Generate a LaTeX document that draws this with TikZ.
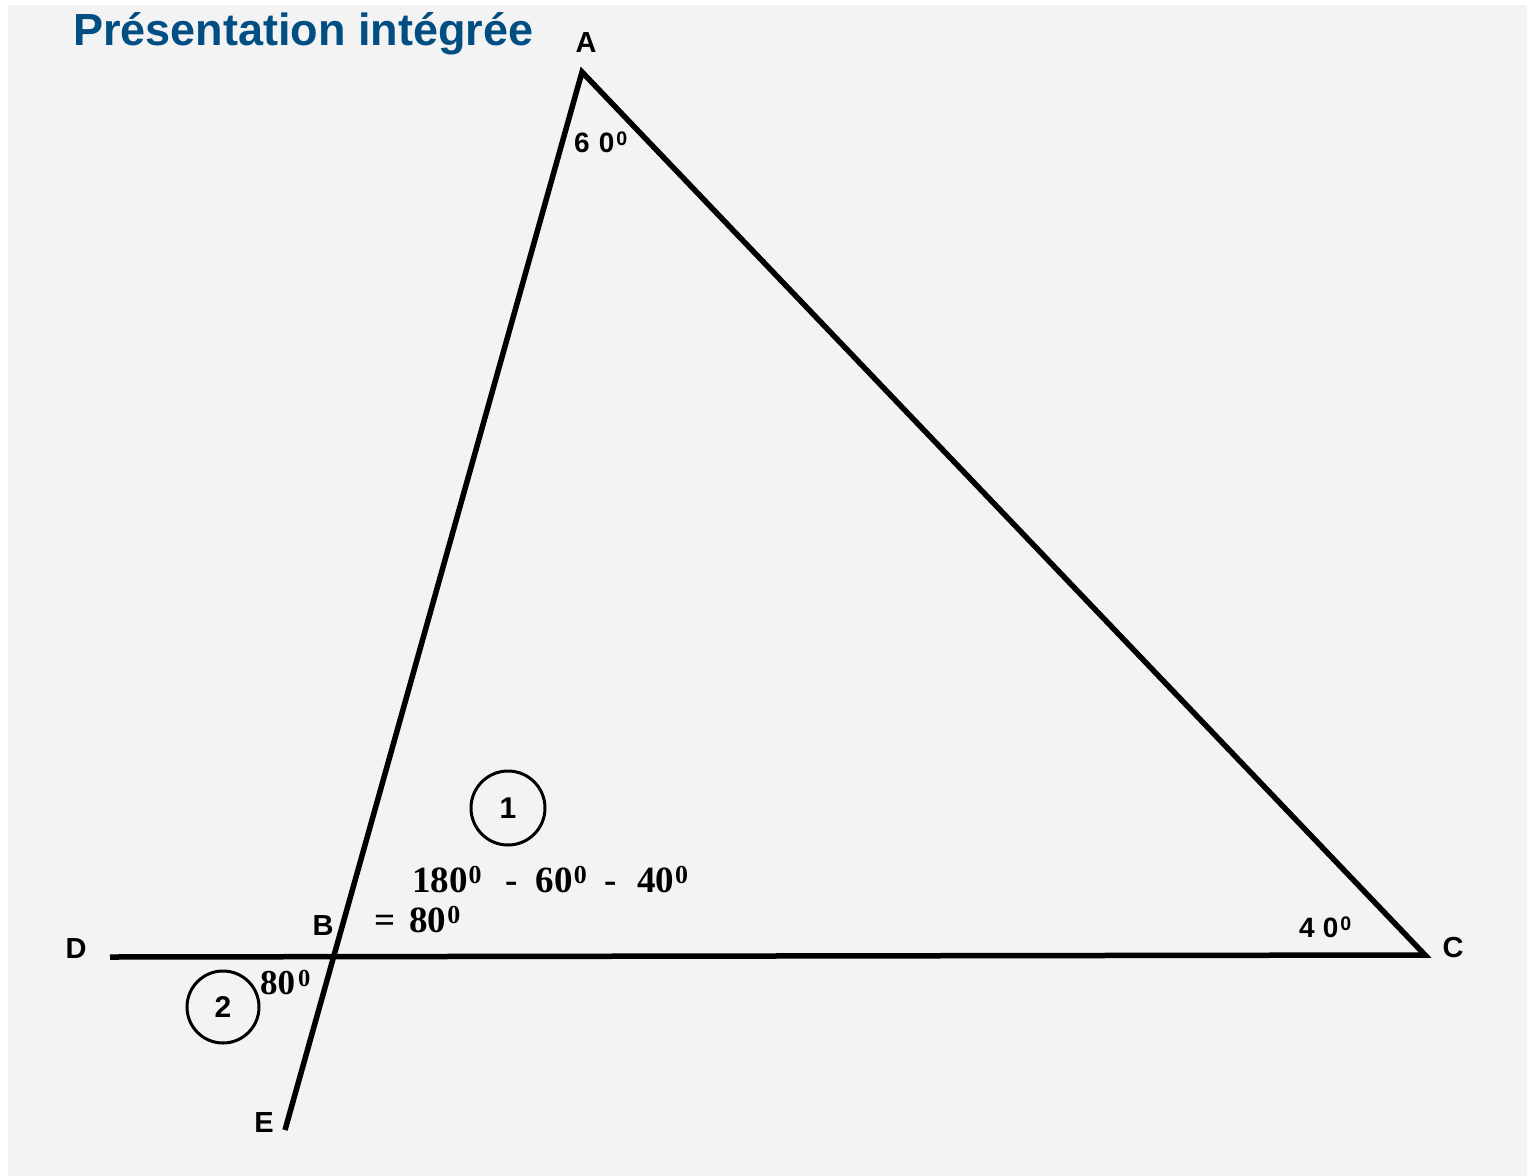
\documentclass[tikz,border=0pt]{standalone}
\usepackage{fontspec}
\setmainfont{Liberation Serif}
\setsansfont{Liberation Sans}
\definecolor{titleblue}{RGB}{0,78,130}
\definecolor{paper}{RGB}{243,243,243}
\newcommand{\dg}{\raisebox{0.22em}{\scalebox{0.7}{0}}}
\begin{document}
\begin{tikzpicture}[x=1pt,y=-1pt,
  lbl/.style={font=\sffamily\bfseries\fontsize{29}{30}\selectfont, inner sep=0pt},
  ang/.style={font=\sffamily\bfseries\fontsize{28}{30}\selectfont, inner sep=0pt},
  frm/.style={font=\rmfamily\bfseries\fontsize{37}{40}\selectfont, inner sep=0pt},
  num/.style={circle, draw, line width=3pt, minimum size=74pt, inner sep=0pt,
              font=\sffamily\bfseries\fontsize{30}{30}\selectfont},
  edge/.style={line width=5.5pt, line join=miter}]
\useasboundingbox (0,0) rectangle (1527,1176);
\fill[white] (0,0) rectangle (1527,1176);
\fill[paper] (8,5) rectangle (1527,1176);
\node[anchor=base west, inner sep=0pt, text=titleblue,
      font=\sffamily\bfseries\fontsize{45}{50}\selectfont] (title) at (73,45) {Présentation intégrée};
\coordinate (A) at (582,72);
\coordinate (C) at (1425,955);
\coordinate (D) at (110,957);
\coordinate (E) at (285,1130);
\coordinate (B) at (334,956);
\draw[edge] (E) -- (A) -- (C) -- (D);
\node[lbl, anchor=base] (lA) at (586,52) {A};
\node[lbl, anchor=base] (lB) at (323,935) {B};
\node[lbl, anchor=base] (lC) at (1453,957) {C};
\node[lbl, anchor=base] (lD) at (76,958) {D};
\node[lbl, anchor=base] (lE) at (264,1132) {E};
\node[ang, anchor=base west] (a60) at (574,152) {6\hspace{9pt}0\hspace{2pt}\dg};
\node[ang, anchor=base west] (a40) at (1299,937) {4\hspace{8pt}0\hspace{2pt}\dg};
\node[num] (n1) at (508,808) {1};
\node[num, minimum size=72pt] (n2) at (223,1007) {2};
\node[frm, anchor=base west] (f1) at (412,892) {180\hspace{1pt}\dg\hspace{24pt}-\hspace{18pt}60\hspace{1pt}\dg\hspace{18pt}-\hspace{20pt}40\hspace{1pt}\dg};
\node[frm, anchor=base west] (f2) at (374,932) {=\hspace{14pt}80\hspace{1pt}\dg};
\node[font=\rmfamily\bfseries\fontsize{35}{36}\selectfont, inner sep=0pt, anchor=base west] (f3) at (260,994) {80\hspace{3pt}\dg};
\end{tikzpicture}
\end{document}
